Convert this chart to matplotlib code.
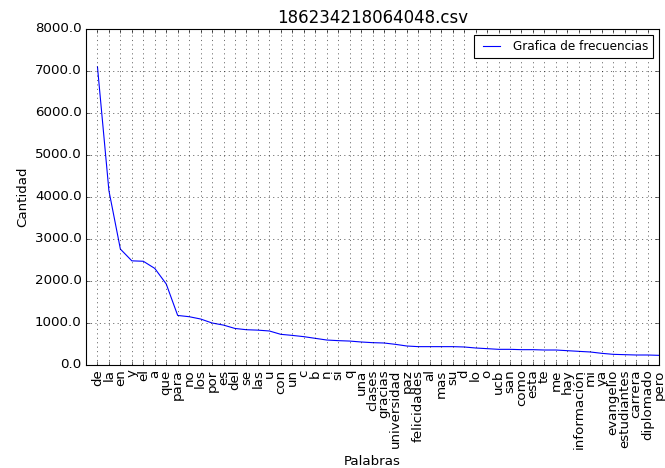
import matplotlib
matplotlib.use("Agg")
import matplotlib.pyplot as plt
from matplotlib.ticker import FormatStrFormatter

# word counts from the csv, most frequent first
palabras = ["de", "la", "en", "y", "el", "a", "que", "para", "no", "los",
            "por", "es", "del", "se", "las", "u", "con", "un", "c", "b",
            "n", "si", "q", "una", "clases", "gracias", "universidad", "paz", "felicidades", "al",
            "mas", "su", "d", "lo", "o", "ucb", "san", "como", "esta", "te",
            "me", "hay", "información", "mi", "ya", "evangelio", "estudiantes", "carrera", "diplomado", "pero"]
cantidad = [7100, 4150, 2760, 2480, 2470, 2300, 1930, 1180, 1150, 1095,
            1000, 950, 870, 840, 830, 810, 730, 705, 675, 635,
            595, 580, 570, 548, 532, 524, 492, 452, 437, 437,
            437, 437, 429, 405, 389, 373, 373, 365, 365, 357,
            357, 341, 325, 310, 278, 254, 246, 238, 238, 230]

titulo = "186234218064048.csv"

plt.style.use("classic")
fig = plt.figure(figsize=(665 / 80, 468 / 80), dpi=80, facecolor="white")
ax = fig.add_axes([86 / 665, 1 - 365 / 468, 573 / 665, 336 / 468])

x = list(range(len(palabras)))
ax.plot(x, cantidad, color="b", linewidth=1, label="Grafica de frecuencias")

ax.set_xticks(x)
ax.set_xticklabels(palabras, rotation=90)
ax.set_xlim(-1, len(palabras) - 1)
ax.set_ylim(0, 8000)
ax.yaxis.set_major_formatter(FormatStrFormatter("%.1f"))
ax.grid(True)

ax.set_title(titulo, fontsize=15)
ax.set_xlabel("Palabras", fontsize=12)
ax.set_ylabel("Cantidad", fontsize=12)
ax.legend(loc="upper right", prop={"size": 10.8})

fig.savefig("out.png", dpi=80, facecolor="white")
